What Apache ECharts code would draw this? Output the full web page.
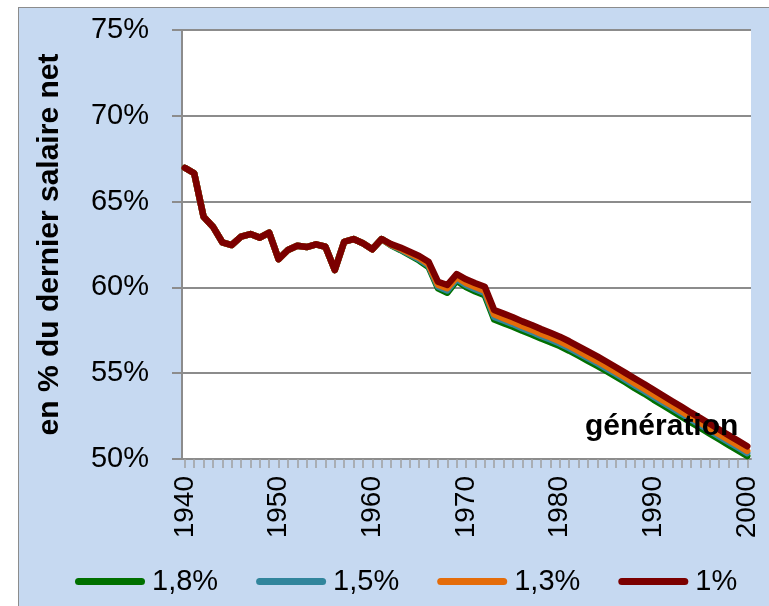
<!DOCTYPE html>
<html>
<head>
<meta charset="utf-8">
<script src="https://cdn.jsdelivr.net/npm/echarts@6/dist/echarts.min.js"></script>
<style>
  html, body { margin: 0; padding: 0; background: #fff; overflow: hidden; }
  #panel { position: absolute; left: 18px; top: 7px; width: 770px; height: 620px;
           background: #c6d9f1; border: 1.5px solid #8c8c8c; }
  #chart { position: absolute; left: 0; top: 0; width: 769px; height: 606px; }
</style>
</head>
<body>
<div id="panel"></div>
<div id="chart"></div>
<script>
const years = [
  1940, 1941, 1942, 1943, 1944, 1945, 1946, 1947, 1948, 1949,
  1950, 1951, 1952, 1953, 1954, 1955, 1956, 1957, 1958, 1959,
  1960, 1961, 1962, 1963, 1964, 1965, 1966, 1967, 1968, 1969,
  1970, 1971, 1972, 1973, 1974, 1975, 1976, 1977, 1978, 1979,
  1980, 1981, 1982, 1983, 1984, 1985, 1986, 1987, 1988, 1989,
  1990, 1991, 1992, 1993, 1994, 1995, 1996, 1997, 1998, 1999, 2000
]
const yearLabels = [1940, 1950, 1960, 1970, 1980, 1990, 2000]

// 1940-1961 : les quatre courbes sont confondues
const common = [
  66.97, 66.65, 64.12, 63.54, 62.63, 62.47, 62.96, 63.11, 62.90, 63.19,
  61.65, 62.18, 62.43, 62.35, 62.51, 62.37, 61.01, 62.66, 62.82, 62.57,
  62.22, 62.82
]
// 1962-2000
const rate18 = common.concat([
  62.45, 62.18, 61.88, 61.57, 61.19, 59.95, 59.69, 60.39,
  60.02, 59.76, 59.54, 58.13, 57.92, 57.71, 57.47, 57.26, 57.02, 56.81,
  56.58, 56.31, 56.02, 55.72, 55.43, 55.12, 54.80, 54.47, 54.13, 53.81,
  53.46, 53.13, 52.80, 52.47, 52.13, 51.81, 51.48, 51.15, 50.82, 50.50, 50.17
])
const rate15 = common.concat([
  62.47, 62.22, 61.93, 61.64, 61.27, 60.05, 59.82, 60.49,
  60.14, 59.89, 59.68, 58.28, 58.07, 57.86, 57.62, 57.41, 57.17, 56.96,
  56.73, 56.46, 56.17, 55.87, 55.58, 55.27, 54.95, 54.62, 54.29, 53.97,
  53.63, 53.30, 52.97, 52.64, 52.30, 51.98, 51.65, 51.32, 50.99, 50.67, 50.34
])
const rate13 = common.concat([
  62.49, 62.26, 61.99, 61.72, 61.36, 60.16, 59.95, 60.60,
  60.26, 60.02, 59.81, 58.43, 58.21, 57.99, 57.75, 57.54, 57.30, 57.09,
  56.86, 56.59, 56.30, 56.00, 55.71, 55.40, 55.08, 54.75, 54.42, 54.10,
  53.76, 53.43, 53.10, 52.77, 52.43, 52.11, 51.78, 51.45, 51.12, 50.80, 50.47
])
const rate10 = common.concat([
  62.52, 62.32, 62.08, 61.83, 61.50, 60.33, 60.14, 60.78,
  60.47, 60.24, 60.04, 58.68, 58.47, 58.26, 58.02, 57.81, 57.57, 57.36,
  57.13, 56.86, 56.57, 56.27, 55.98, 55.67, 55.35, 55.02, 54.69, 54.37,
  54.03, 53.70, 53.37, 53.04, 52.70, 52.38, 52.05, 51.72, 51.39, 51.07, 50.74
])

const seriesNames = ['1,8%', '1,5%', '1,3%', '1%']
const seriesColors = ['#007000', '#31859c', '#e46c0a', '#7b0000']
const seriesData = [rate18, rate15, rate13, rate10]

const FONT = 'Liberation Sans'
const GRID_COLOR = '#8c8c8c'
// trait arrondi pour la légende
const LEGEND_ICON = 'path://M3.5,0 L66.5,0 A3.5,3.5 0 0 1 66.5,7 L3.5,7 A3.5,3.5 0 0 1 3.5,0 Z'

const myChart = echarts.init(document.getElementById('chart'), null, { renderer: 'canvas' })
const option = {
  animation: false,
  backgroundColor: 'transparent',
  textStyle: { fontFamily: FONT },
  title: {
    text: 'génération',
    left: 585,
    top: 412,
    padding: 0,
    textStyle: { fontFamily: FONT, fontSize: 30, fontWeight: 'bold', color: '#000' }
  },
  legend: {
    data: seriesNames.map(n => ({ name: n, icon: LEGEND_ICON })),
    left: 70,
    top: 562,
    itemWidth: 70,
    itemHeight: 7,
    itemGap: 38,
    textStyle: { fontFamily: FONT, fontSize: 29, color: '#000', padding: [0, 0, 0, 2] }
  },
  grid: {
    left: 182,
    right: 18,
    top: 30,
    bottom: 147,
    show: true,
    backgroundColor: '#fff',
    borderWidth: 0
  },
  xAxis: {
    type: 'value',
    min: 1939.7,
    max: 2000.4,
    splitLine: { show: false },
    axisLine: { lineStyle: { color: GRID_COLOR, width: 2 } },
    axisTick: {
      customValues: years,
      length: 9,
      lineStyle: { color: '#a0a0a0', width: 1.5 }
    },
    axisLabel: {
      customValues: yearLabels,
      rotate: 90,
      margin: 17,
      fontSize: 28,
      color: '#000',
      formatter: v => String(v)
    }
  },
  yAxis: {
    type: 'value',
    min: 50,
    max: 75,
    interval: 5,
    name: 'en % du dernier salaire net',
    nameLocation: 'middle',
    nameGap: 117,
    nameTextStyle: { fontFamily: FONT, fontSize: 30, fontWeight: 'bold', color: '#000' },
    axisLine: { show: true, lineStyle: { color: GRID_COLOR, width: 2 } },
    axisTick: { show: true, length: 10, lineStyle: { color: GRID_COLOR, width: 2 } },
    splitLine: { lineStyle: { color: GRID_COLOR, width: 2 } },
    axisLabel: { formatter: '{value}%', fontSize: 29, margin: 33, color: '#000' }
  },
  series: seriesNames.map((name, k) => ({
    name: name,
    type: 'line',
    symbol: 'none',
    color: seriesColors[k],
    lineStyle: { width: 6.5, cap: 'round', join: 'round' },
    data: years.map((y, i) => [y, seriesData[k][i]])
  }))
}

option && myChart.setOption(option)
</script>
</body>
</html>
